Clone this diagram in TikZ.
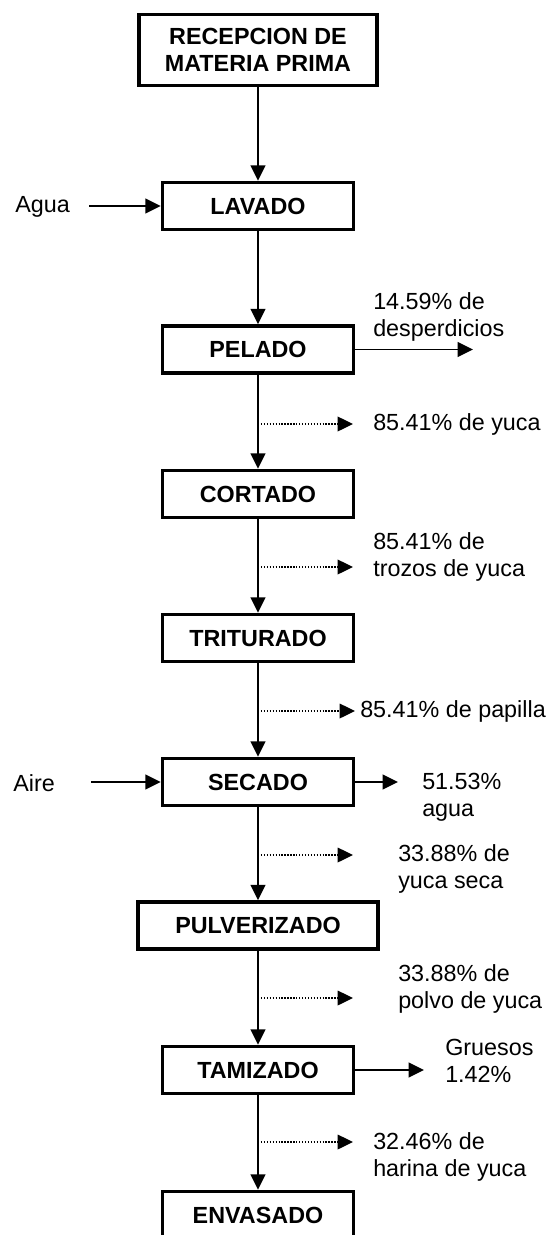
\documentclass[tikz,border=0pt]{standalone}
\usepackage{fontspec}
\setmainfont{Liberation Sans}
\usetikzlibrary{arrows.meta}

\tikzset{
  caja/.style={draw, line width=2.6pt, minimum width=143.25pt, minimum height=35.25pt,
    inner sep=0pt, align=center, font=\fontsize{17.5}{20.25}\selectfont\bfseries},
  etiq/.style={inner sep=0pt, anchor=west, align=left, font=\fontsize{17.5}{20.25}\selectfont},
  flecha/.style={line width=1.3pt, -{Triangle[length=11.5pt,width=11pt]}},
  punteada/.style={line width=1pt, dash pattern=on 1pt off 1.2pt, -{Triangle[length=11.5pt,width=11pt]}}
}

\begin{document}
\begin{tikzpicture}[x=0.75pt,y=-0.75pt]
\useasboundingbox (0,0) rectangle (551,1235);
\clip (0,0) rectangle (551,1235);

% etapas del proceso
\node[caja, minimum width=178.5pt, minimum height=53.25pt] (recepcion) at (258,50) {RECEPCION DE\\MATERIA PRIMA};
\node[caja] (lavado) at (258,206) {LAVADO};
\node[caja] (pelado) at (258,349.5) {PELADO};
\node[caja] (cortado) at (258,494) {CORTADO};
\node[caja] (triturado) at (258,638) {TRITURADO};
\node[caja] (secado) at (258,782) {SECADO};
\node[caja, minimum width=180pt] (pulverizado) at (258,925.5) {PULVERIZADO};
\node[caja] (tamizado) at (258,1070) {TAMIZADO};
\node[caja] (envasado) at (258,1215) {ENVASADO};

\draw[flecha] (recepcion) -- (lavado);
\draw[flecha] (lavado) -- (pelado);
\draw[flecha] (pelado) -- (cortado);
\draw[flecha] (cortado) -- (triturado);
\draw[flecha] (triturado) -- (secado);
\draw[flecha] (secado) -- (pulverizado);
\draw[flecha] (pulverizado) -- (tamizado);
\draw[flecha] (tamizado) -- (envasado);

% entradas
\node[etiq] (agua) at (15,207) {Agua};
\coordinate (ag0) at (89,206);
\draw[flecha] (ag0) -- (lavado);
\node[etiq] (aire) at (13,783) {Aire};
\coordinate (ai0) at (91,782);
\draw[flecha] (ai0) -- (secado);

% salidas
\node[etiq] (desp) at (373,316.5) {14.59\% de\\desperdicios};
\coordinate (de1) at (473,349.5);
\draw[flecha] (pelado) -- (de1);
\node[etiq] (vapor) at (422,797.5) {51.53\%\\agua};
\coordinate (va1) at (398,782);
\draw[flecha] (secado) -- (va1);
\node[etiq] (gruesos) at (445,1060.5) {Gruesos\\1.42\%};
\coordinate (gr1) at (424,1070);
\draw[flecha] (tamizado) -- (gr1);

% balance entre etapas
\coordinate (b1) at (258,424);  \coordinate (b1e) at (353,424);
\coordinate (b2) at (258,567);  \coordinate (b2e) at (353,567);
\coordinate (b3) at (258,711);  \coordinate (b3e) at (355,711);
\coordinate (b4) at (258,855);  \coordinate (b4e) at (353,855);
\coordinate (b5) at (258,998);  \coordinate (b5e) at (353,998);
\coordinate (b6) at (258,1142); \coordinate (b6e) at (353,1142);
\draw[punteada] (b1) -- (b1e);
\draw[punteada] (b2) -- (b2e);
\draw[punteada] (b3) -- (b3e);
\draw[punteada] (b4) -- (b4e);
\draw[punteada] (b5) -- (b5e);
\draw[punteada] (b6) -- (b6e);
\node[etiq] (yuca) at (373,424) {85.41\% de yuca};
\node[etiq] (trozos) at (373,557) {85.41\% de\\trozos de yuca};
\node[etiq] (papilla) at (360,711) {85.41\% de papilla};
\node[etiq] (seca) at (398,868.5) {33.88\% de\\yuca seca};
\node[etiq] (polvo) at (398,989) {33.88\% de\\polvo de yuca};
\node[etiq] (harina) at (373,1156.5) {32.46\% de\\harina de yuca};

\end{tikzpicture}
\end{document}
